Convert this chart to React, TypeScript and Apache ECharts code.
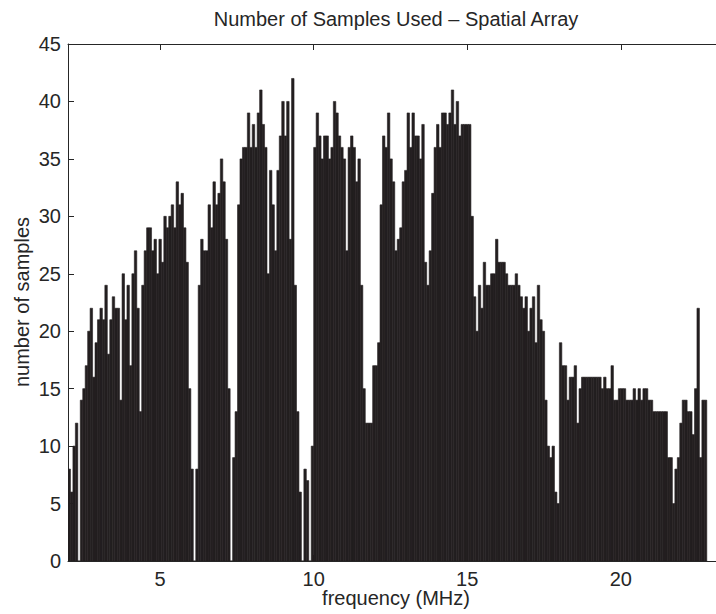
import React, { useEffect, useRef } from "react";
import * as echarts from "echarts";

// Number of samples per frequency bin (bins of 0.08 MHz starting at 2.00 MHz)
const COUNTS_2_TO_7 = [8,6,10,12,0,14,15,17,20,22,16,19,21,22,21,24,18,21,23,22,22,14,25,21,24,17,25,27,22,13,24,27,29,29,27,28,25,28,26,30,29,30,31,29,33,31,32,29,26,15,8,0,8,24,28,27,27,31,29,33,31,32,35,33,28];
const COUNTS_7_TO_12 = [15,0,9,13,31,35,36,36,39,36,38,36,39,41,38,36,25,34,31,27,34,37,40,37,40,28,42,24,13,6,0,8,7,0,10,36,39,37,35,37,37,35,36,40,39,37,36,35,27,36,37,36,33,35,24,15,12,12,12,17,17,19,31,37];
const COUNTS_12_TO_17 = [36,39,35,33,27,28,29,33,34,39,36,39,37,37,35,38,26,24,27,32,36,38,36,39,39,38,39,41,38,40,37,38,38,38,38,30,23,20,24,22,26,24,24,25,25,28,26,26,26,25,24,24,24,25,24,23,22,23,20,22,23,19,24,21];
const COUNTS_17_TO_23 = [20,14,10,9,10,6,5,19,17,17,14,16,16,17,12,15,16,16,16,16,16,16,16,16,15,16,15,15,17,14,14,15,15,15,14,14,14,15,14,15,14,15,15,14,14,13,13,13,13,13,13,9,9,5,8,9,12,14,14,13,13,11,15,22,9,14,14];

const BIN_START_MHZ = 2.0;
const BIN_WIDTH_MHZ = 0.08;
const X_MIN = 2;
const X_MAX = 23.1;
const X_TICKS = [5, 10, 15, 20];
const Y_MIN = 0;
const Y_MAX = 45;
const Y_TICKS_INTERVAL = 5;

const TITLE = "Number of Samples Used \u2013 Spatial Array";
const X_NAME = "frequency (MHz)";
const Y_NAME = "number of samples";

const FONT = "'Liberation Sans', Arial, Helvetica, sans-serif";
const INK = "#262626";
const BAR = "#231f20";

export default function App() {
  const ref = useRef<HTMLDivElement | null>(null);

  useEffect(() => {
    if (!ref.current) return;
    const chart = echarts.init(ref.current, null, { renderer: "svg" });
    const counts = [...COUNTS_2_TO_7, ...COUNTS_7_TO_12, ...COUNTS_12_TO_17, ...COUNTS_17_TO_23];
    const data = counts.map((c, i) => [BIN_START_MHZ + BIN_WIDTH_MHZ * (i + 0.5), c]);

    const axisCommon = {
      type: "value" as const,
      min: X_MIN,
      max: X_MAX,
      splitLine: { show: false },
      axisLine: { show: true, lineStyle: { color: INK, width: 1 } },
    };

    chart.setOption({
      animation: false,
      backgroundColor: "#ffffff",
      grid: { left: 68, top: 44, width: 660, height: 517, containLabel: false },
      xAxis: [
        {
          ...axisCommon,
          position: "bottom",
          axisTick: { show: true, inside: true, length: 6, customValues: X_TICKS, lineStyle: { color: INK } },
          axisLabel: { show: true, customValues: X_TICKS, fontSize: 20, color: INK, fontFamily: FONT, margin: 8 },
        },
        {
          ...axisCommon,
          position: "top",
          axisTick: { show: true, inside: true, length: 6, customValues: X_TICKS, lineStyle: { color: INK } },
          axisLabel: { show: false },
        },
      ],
      yAxis: {
        type: "value",
        min: Y_MIN,
        max: Y_MAX,
        interval: Y_TICKS_INTERVAL,
        splitLine: { show: false },
        axisLine: { show: true, lineStyle: { color: INK, width: 1 } },
        axisTick: { show: true, inside: true, length: 6, lineStyle: { color: INK } },
        axisLabel: { fontSize: 20, color: INK, fontFamily: FONT, margin: 7 },
      },
      series: [
        {
          type: "custom",
          xAxisIndex: 0,
          yAxisIndex: 0,
          clip: true,
          data,
          renderItem: (params: any, api: any) => {
            const f = api.value(0);
            const v = api.value(1);
            const topLeft = api.coord([f - BIN_WIDTH_MHZ / 2, v]);
            const bottomRight = api.coord([f + BIN_WIDTH_MHZ / 2, 0]);
            return {
              type: "rect",
              shape: {
                x: topLeft[0],
                y: topLeft[1],
                width: bottomRight[0] - topLeft[0],
                height: bottomRight[1] - topLeft[1],
              },
              style: { fill: BAR, stroke: BAR, lineWidth: 0.6 },
            };
          },
        },
      ],
      graphic: [
        {
          type: "text",
          x: 396,
          y: 19,
          style: { text: TITLE, fontSize: 20, fill: INK, fontFamily: FONT, align: "center", verticalAlign: "middle" },
        },
        {
          type: "text",
          x: 396,
          y: 598,
          style: { text: X_NAME, fontSize: 20, fill: INK, fontFamily: FONT, align: "center", verticalAlign: "middle" },
        },
        {
          type: "text",
          x: 22,
          y: 302,
          rotation: Math.PI / 2,
          style: { text: Y_NAME, fontSize: 20, fill: INK, fontFamily: FONT, align: "center", verticalAlign: "middle" },
        },
      ],
    });
    return () => chart.dispose();
  }, []);

  return (
    <div
      ref={ref}
      style={{ position: "absolute", left: 0, top: 0, width: 716, height: 614, overflow: "hidden" }}
    />
  );
}
